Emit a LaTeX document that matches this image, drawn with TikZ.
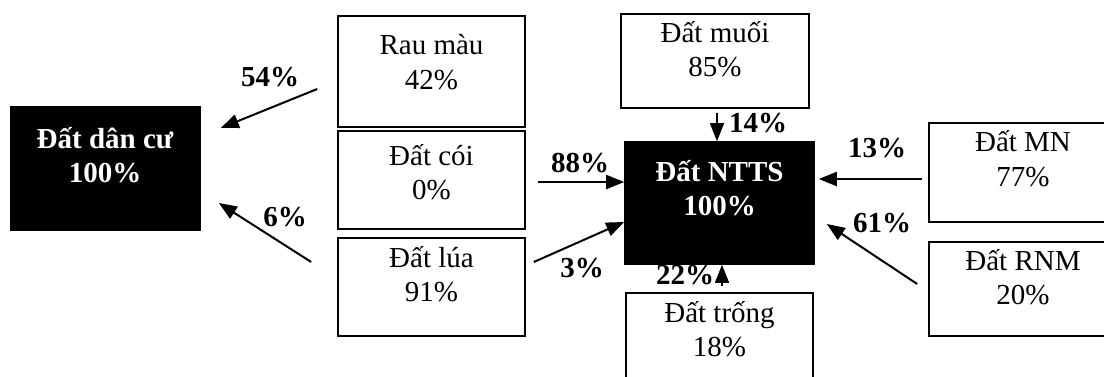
\documentclass[tikz,border=0pt]{standalone}
\usepackage{fontspec}
\setmainfont{Liberation Serif}
\usetikzlibrary{arrows.meta}
\tikzset{
  box/.style={draw, line width=1.6pt, inner sep=0pt, minimum width=188pt},
  darkbox/.style={box, fill=black},
  txt/.style={align=center, inner sep=0pt, font=\fontsize{29}{34.5}\selectfont},
  whitetxt/.style={txt, text=white, font=\fontsize{29}{34.5}\selectfont\bfseries},
  pct/.style={inner sep=0pt, font=\fontsize{29}{34.5}\selectfont\bfseries},
  flow/.style={line width=2pt, -{Triangle[length=18pt,width=14pt]}},
}
\begin{document}
\begin{tikzpicture}[x=1pt, y=-1pt]
  \fill[white] (0,0) rectangle (1104,376);
  \useasboundingbox (0,0) rectangle (1104,376);
  \clip (0,0) rectangle (1104,376);

  % land-use boxes
  \node[darkbox, minimum width=189pt, minimum height=123pt] (dancu) at (105.5,168.5) {};
  \node[box, minimum width=187pt, minimum height=111pt] (rau)   at (431.5,71.5) {};
  \node[box, minimum width=187pt, minimum height=98pt]  (coi)   at (431.5,180) {};
  \node[box, minimum width=187pt, minimum height=98pt]  (lua)   at (431.5,287) {};
  \node[box, minimum width=188pt, minimum height=94pt]  (muoi)  at (715,61) {};
  \node[darkbox, minimum width=189pt, minimum height=122pt] (ntts) at (719.5,203) {};
  \node[box, minimum width=188pt, minimum height=99pt]  (mn)    at (1023,172.5) {};
  \node[box, minimum width=188pt, minimum height=94pt]  (rnm)   at (1023,289) {};
  \node[box, minimum width=187pt, minimum height=100pt] (trong) at (719.5,343) {};

  % box texts
  \node[whitetxt] (dancu-t) at (105,158.5) {\strut Đất dân cư\\\strut 100\%};
  \node[txt] (rau-t)   at (431.5,65)    {\strut Rau màu\\\strut 42\%};
  \node[txt] (coi-t)   at (431.5,175.5) {\strut Đất cói\\\strut 0\%};
  \node[txt] (lua-t)   at (431.5,277.5) {\strut Đất lúa\\\strut 91\%};
  \node[txt] (muoi-t)  at (715,52.5)    {\strut Đất muối\\\strut 85\%};
  \node[whitetxt] (ntts-t) at (719.5,191.5) {\strut Đất NTTS\\\strut 100\%};
  \node[txt] (mn-t)    at (1023,162)    {\strut Đất MN\\\strut 77\%};
  \node[txt] (rnm-t)   at (1023,280.5)  {\strut Đất RNM\\\strut 20\%};
  \node[txt] (trong-t) at (719.5,332.5) {\strut Đất trống\\\strut 18\%};

  % flows
  \draw[flow] ([xshift=-20pt,yshift=-17.5pt]rau.west) -- ([xshift=20pt,yshift=40.5pt]dancu.east);
  \draw[flow] ([xshift=-26pt,yshift=25pt]lua.west) -- ([xshift=18pt,yshift=-34.5pt]dancu.east);
  \draw[flow] ([xshift=12pt,yshift=-2pt]coi.east) -- ([yshift=21pt]ntts.west);
  \draw[flow] ([xshift=8pt,yshift=25pt]lua.east) -- ([yshift=-19pt]ntts.west);
  \draw[flow, line width=1.5pt] ([xshift=2pt,yshift=-4pt]muoi.south) -- ([xshift=-2.5pt]ntts.north);
  \draw[flow] ([xshift=-6pt,yshift=-6.5pt]mn.west) -- ([xshift=4pt,yshift=24pt]ntts.east);
  \draw[flow] ([xshift=-11pt,yshift=5pt]rnm.west) -- ([xshift=12pt,yshift=-21pt]ntts.east);
  \draw[flow, line width=1.5pt] ([xshift=2.5pt,yshift=6pt]trong.north) -- ([xshift=2.5pt]ntts.south);

  % flow shares
  \node[pct] (p54) at (270,77.5) {54\%};
  \node[pct] (p6)  at (285,217)  {6\%};
  \node[pct] (p88) at (580,163)  {88\%};
  \node[pct] (p3)  at (582,268)  {3\%};
  \node[pct] (p14) at (758,123)  {14\%};
  \node[pct] (p13) at (877,148)  {13\%};
  \node[pct] (p61) at (882,223)  {61\%};
  \node[pct] (p22) at (685,275)  {22\%};
\end{tikzpicture}
\end{document}
